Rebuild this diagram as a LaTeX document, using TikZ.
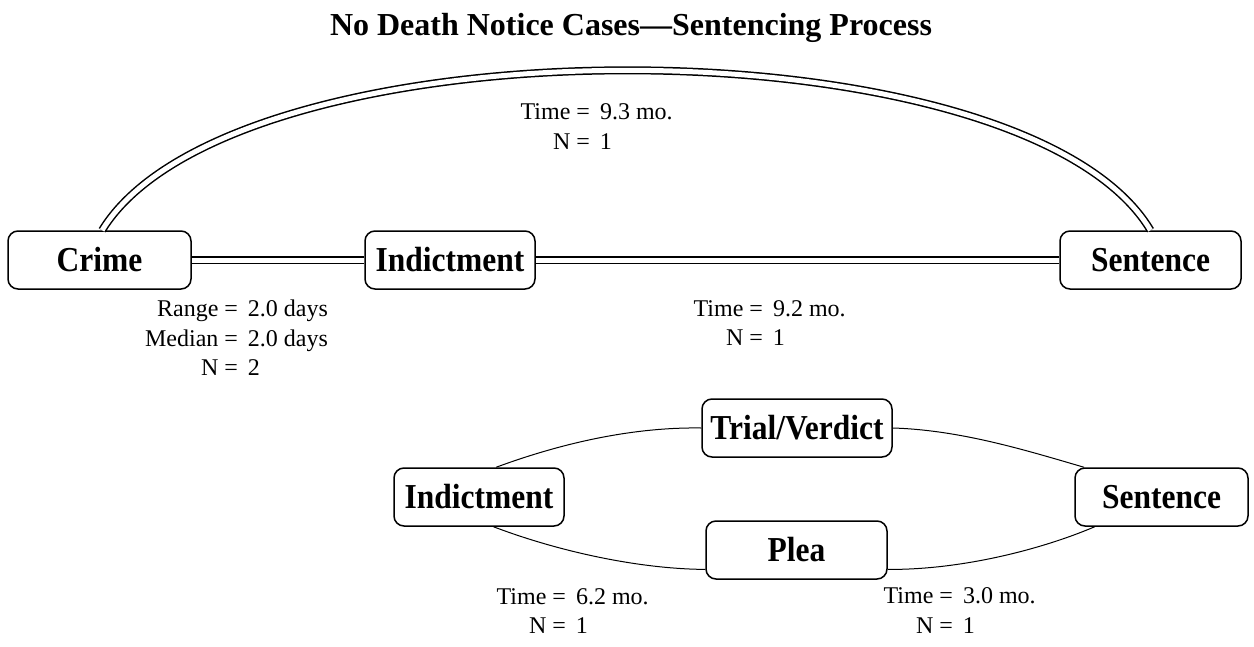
\documentclass[tikz,border=0pt]{standalone}
\usepackage{fontspec}
\setmainfont{Liberation Serif}
\newfontfamily\boxfont{Liberation Serif}[FakeStretch=0.9]
\newcommand\eqrow[2]{\makebox[0pt][r]{#1 =}\makebox[0pt][l]{\hspace{10pt}#2}}
\begin{document}
\begin{tikzpicture}[x=1pt,y=-1pt,
  box/.style={draw, line width=1.5pt, rounded corners=10pt, inner sep=0pt,
    font=\boxfont\fontsize{35}{38}\selectfont\bfseries, minimum height=58pt},
  dbl/.style={double, double distance=5pt, line width=1.5pt},
  thinline/.style={line width=1pt},
  lbl/.style={font=\fontsize{24}{29.5}\selectfont, align=center, inner sep=0pt}]
\useasboundingbox (0,0) rectangle (1254,646);
\node[font=\fontsize{32}{36}\selectfont\bfseries, anchor=base, inner sep=0pt] (title) at (631,35) {No Death Notice Cases—Sentencing Process};
\node[box, minimum width=183pt] (crime) at (99.5,260) {Crime};
\node[box, minimum width=170pt] (ind1) at (450,260) {Indictment};
\node[box, minimum width=181pt] (sent1) at (1150.5,260) {Sentence};
\node[box, minimum width=190pt] (trial) at (797,428) {Trial/Verdict};
\node[box, minimum width=170pt] (ind2) at (479,497) {Indictment};
\node[box, minimum width=173pt] (sent2) at (1161.5,497) {Sentence};
\node[box, minimum width=181pt] (plea) at (796.5,550) {Plea};
% double connectors
\draw[dbl] (crime.85) .. controls (233,17) and (1023,17) .. (sent1.north);
\draw[dbl] (crime) -- (ind1);
\draw[dbl] (ind1) -- (sent1);
% thin connectors
\draw[thinline] (ind2.60) .. controls (570,440) and (640,427) .. (trial.west);
\draw[thinline] (trial.east) .. controls (960,430) and (1025,450) .. (sent2.159);
\draw[thinline] (ind2.296) .. controls (560,552) and (640,569) .. (plea.192);
\draw[thinline] (plea.348) .. controls (960,570) and (1040,550) .. (sent2.204);
% labels
\node[lbl] (tarc) at (590,126.5) {\eqrow{Time}{9.3 mo.}\\\eqrow{N}{1}};
\node[lbl] (trange) at (238,338) {\eqrow{Range}{2.0 days}\\\eqrow{Median}{2.0 days}\\\eqrow{N}{2}};
\node[lbl] (tind) at (763,323) {\eqrow{Time}{9.2 mo.}\\\eqrow{N}{1}};
\node[lbl] (tplea) at (566,611) {\eqrow{Time}{6.2 mo.}\\\eqrow{N}{1}};
\node[lbl] (tsent) at (953,610.5) {\eqrow{Time}{3.0 mo.}\\\eqrow{N}{1}};
\end{tikzpicture}
\end{document}
